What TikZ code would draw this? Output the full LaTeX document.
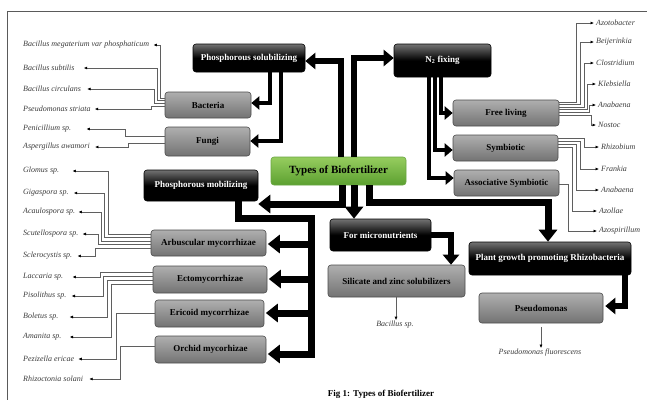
\documentclass[tikz,border=0pt]{standalone}
\usepackage{fontspec}
\setmainfont{Liberation Serif}
\usetikzlibrary{arrows.meta}
\definecolor{labgray}{RGB}{60,60,60}
\definecolor{lingray}{RGB}{95,95,95}
\definecolor{gtop}{RGB}{175,175,175}
\definecolor{gbot}{RGB}{115,115,115}
\definecolor{gdraw}{RGB}{75,75,75}
\definecolor{grtop}{RGB}{150,205,95}
\definecolor{grbot}{RGB}{92,160,48}
\definecolor{grdraw}{RGB}{105,165,65}
\definecolor{frcol}{RGB}{90,90,90}
\begin{document}
\begin{tikzpicture}[x=1pt,y=-1pt,
  wh/.style 2 args={minimum width=#1pt, minimum height=#2pt},
  box/.style={rounded corners=3pt, inner sep=1pt, align=center, font=\fontsize{9}{10}\selectfont\bfseries},
  gbox/.style={box, draw=gdraw, line width=0.6pt, top color=gtop, bottom color=gbot, text=black},
  bbox/.style={box, draw=black, line width=0.6pt, top color=black!55, bottom color=black, middle color=black, text=white},
  grbox/.style={box, draw=grdraw, line width=0.6pt, top color=grtop, bottom color=grbot, text=black, font=\fontsize{11}{12}\selectfont\bfseries},
  labL/.style={anchor=west, inner sep=1pt, font=\fontsize{8}{9}\selectfont\itshape, text=labgray},
  labC/.style={inner sep=1pt, font=\fontsize{8}{9}\selectfont\itshape, text=labgray},
  conn/.style={draw=lingray, line width=0.65pt, -{Latex[length=3.5pt,width=3pt,color=black]}},
  fatS/.style={line width=4.5pt, line join=miter, -{Triangle[length=8pt,width=13pt]}},
  fatM/.style={line width=6pt, line join=miter, -{Triangle[length=10pt,width=16pt]}},
  fatL/.style={line width=7pt, line join=miter, -{Triangle[length=12pt,width=18pt]}}
]
\useasboundingbox (0,0) rectangle (647,400);
\draw[draw=frcol, line width=0.8pt] (647,11) -- (7,11) -- (7,400);

% boxes
\node[bbox, wh={112}{28}] (psol) at (249,58) {Phosphorous solubilizing};
\node[bbox, wh={97}{33}] (n2) at (442.5,60.5) {N\textsubscript{2} fixing};
\node[gbox, wh={86}{26}] (bact) at (208,105) {Bacteria};
\node[gbox, wh={85}{29}] (fungi) at (207.5,141.5) {Fungi};
\node[grbox, wh={135}{28}] (types) at (338.5,171) {Types of Biofertilizer};
\node[gbox, wh={106}{26}] (free) at (506,113) {Free living};
\node[gbox, wh={105}{26}] (symb) at (505.5,148) {Symbiotic};
\node[gbox, wh={105}{26}] (assoc) at (506.5,183) {Associative Symbiotic};
\node[bbox, wh={114}{31}] (pmob) at (201,185.5) {Phosphorous mobilizing};
\node[gbox, wh={115}{26}] (arb) at (208.5,243) {Arbuscular mycorrhizae};
\node[gbox, wh={114}{27}] (ecto) at (210,279.5) {Ectomycorrhizae};
\node[gbox, wh={109}{27}] (eric) at (209.5,313.5) {Ericoid mycorrhizae};
\node[gbox, wh={111}{27}] (orch) at (210.5,349.5) {Orchid mycorhizae};
\node[bbox, wh={101}{32}] (micro) at (380.5,235) {For micronutrients};
\node[gbox, wh={137}{32}] (sil) at (396.5,281) {Silicate and zinc solubilizers};
\node[bbox, wh={162}{33}] (pgpr) at (550,258.5) {Plant growth promoting Rhizobacteria};
\node[gbox, wh={124}{30}] (pseu) at (541,308) {Pseudomonas};

% thick arrows
\draw[fatM] (types.north -| 341,0) -- (341,61) -- (psol.east |- 0,61);
\draw[fatM] (types.north -| 354,0) -- (354,58) -- (n2.west |- 0,58);
\draw[fatS] (psol.south -| 270,0) -- (270,103) -- (bact.east |- 0,103);
\draw[fatS] (psol.south -| 281,0) -- (281,141) -- (fungi.east |- 0,141);
\draw[fatS] (n2.south -| 441,0) -- (441,113) -- (free.west |- 0,113);
\draw[fatS] (n2.south -| 435,0) -- (435,150) -- (symb.west |- 0,150);
\draw[fatS] (n2.south -| 429,0) -- (429,178) -- (assoc.west |- 0,178);
\draw[fatL] (types.south -| 342,0) -- (342,204) -- (pmob.east |- 0,204);
\draw[fatL] (types.south -| 354,0) -- (micro.north -| 354,0);
\draw[fatL] (types.south -| 369,0) -- (369,202) -- (548,202) -- (pgpr.north -| 548,0);
\draw[fatL, shorten >=1.5pt] (pmob.south -| 238,0) -- (238,218) -- (311,218) -- (311,354) -- (orch.east |- 0,354);
\draw[fatL, shorten >=1.5pt] (311,244) -- (arb.east |- 0,244);
\draw[fatL, shorten >=1.5pt] (311,279) -- (ecto.east |- 0,279);
\draw[fatL, shorten >=1.5pt] (311,313) -- (eric.east |- 0,313);
\draw[fatM] (micro.east |- 0,235) -- (451,235) -- (sil.north -| 451,0);
\draw[fatM, shorten >=2pt] (pgpr.south -| 625,0) -- (625,306) -- (pseu.east |- 0,306);

% left labels
\node[labL] (l1) at (22,45) {Bacillus megaterium var phosphaticum};
\node[labL] (l2) at (22,68) {Bacillus subtilis};
\node[labL] (l3) at (22,89) {Bacillus circulans};
\node[labL] (l4) at (22,109) {Pseudomonas striata};
\node[labL] (l5) at (22,129) {Penicillium sp.};
\node[labL] (l6) at (22,147) {Aspergillus awamori};
\node[labL] (l7) at (22,171) {Glomus sp.};
\node[labL] (l8) at (22,193) {Gigaspora sp.};
\node[labL] (l9) at (22,212) {Acaulospora sp.};
\node[labL] (l10) at (22,234) {Scutellospora sp.};
\node[labL] (l11) at (22,256) {Sclerocystis sp.};
\node[labL] (l12) at (22,277) {Laccaria sp.};
\node[labL] (l13) at (22,296) {Pisolithus sp.};
\node[labL] (l14) at (22,317) {Boletus sp.};
\node[labL] (l15) at (22,337) {Amanita sp.};
\node[labL] (l16) at (22,359) {Pezizella ericae};
\node[labL] (l17) at (22,379) {Rhizoctonia solani};

\draw[conn] (bact.west |- 0,98) -| (160,45) -- ([xshift=3pt]l1.east);
\draw[conn] (bact.west |- 0,100.5) -| (157,68) -- ([xshift=8pt]l2.east);
\draw[conn] (bact.west |- 0,103) -| (154,89) -- ([xshift=5pt]l3.east);
\draw[conn] (bact.west |- 0,106) -| (151,109) -- ([xshift=3pt]l4.east);
\draw[conn] (fungi.west |- 0,136) -| (125,129) -- ([xshift=14pt]l5.east);
\draw[conn] (fungi.west |- 0,143) -| (128,147) -- ([xshift=4pt]l6.east);
\draw[conn] (arb.west |- 0,234) -| (108,171) -- ([xshift=12pt]l7.east);
\draw[conn] (arb.west |- 0,237.5) -| (104,193) -- ([xshift=4pt]l8.east);
\draw[conn] (arb.west |- 0,241) -| (101,212) -- ([xshift=2pt]l9.east);
\draw[conn] (arb.west |- 0,244.5) -| (98,234) -- ([xshift=3pt]l10.east);
\draw[conn] (arb.west |- 0,248) -| (95,256) -- ([xshift=4pt]l11.east);
\draw[conn] (ecto.west |- 0,272) -| (100,277) -- ([xshift=8pt]l12.east);
\draw[conn] (ecto.west |- 0,276) -| (103,296) -- ([xshift=4pt]l13.east);
\draw[conn] (ecto.west |- 0,280) -| (107,317) -- ([xshift=10pt]l14.east);
\draw[conn] (ecto.west |- 0,284) -| (111,337) -- ([xshift=7pt]l15.east);
\draw[conn] (eric.west |- 0,313) -| (116,359) -- ([xshift=3pt]l16.east);
\draw[conn] (orch.west |- 0,346) -| (120,379) -- ([xshift=5pt]l17.east);

% right labels
\node[labL] (r1) at (595,23) {Azotobacter};
\node[labL] (r2) at (595,42) {Beijerinkia};
\node[labL] (r3) at (595,63) {Clostridium};
\node[labL] (r4) at (597,84) {Klebsiella};
\node[labL] (r5) at (597,105) {Anabaena};
\node[labL] (r6) at (597,125) {Nostoc};
\node[labL] (r7) at (600,147) {Rhizobium};
\node[labL] (r8) at (600,169) {Frankia};
\node[labL] (r9) at (600,190) {Anabaena};
\node[labL] (r10) at (598,211) {Azollae};
\node[labL] (r11) at (598,231) {Azospirillum};

\draw[conn] (free.east |- 0,102) -| (576,23) -- ([xshift=-1pt]r1.west);
\draw[conn] (free.east |- 0,104.5) -| (580,42) -- ([xshift=-1pt]r2.west);
\draw[conn] (free.east |- 0,107) -| (584,63) -- ([xshift=-1pt]r3.west);
\draw[conn] (free.east |- 0,109.5) -| (587,84) -- ([xshift=-1pt]r4.west);
\draw[conn] (free.east |- 0,112) -| (589,105) -- ([xshift=-1pt]r5.west);
\draw[conn] (free.east |- 0,115) -| (591,125) -- ([xshift=-1pt]r6.west);
\draw[conn] (symb.east |- 0,138) -| (584,147) -- ([xshift=-1pt]r7.west);
\draw[conn] (symb.east |- 0,141) -| (580,169) -- ([xshift=-1pt]r8.west);
\draw[conn] (symb.east |- 0,144) -| (576,190) -- ([xshift=-1pt]r9.west);
\draw[conn] (symb.east |- 0,147) -| (572,211) -- ([xshift=-1pt]r10.west);
\draw[conn] (assoc.east |- 0,184) -| (568,231) -- ([xshift=-1pt]r11.west);

% bottom labels
\node[labC] (bs) at (395,325) {Bacillus sp.};
\draw[conn] (sil.south -| 396,0) -- (bs.north -| 396,0);
\node[labC] (pf) at (540,353) {Pseudomonas fluorescens};
\draw[conn] ([yshift=-4pt]pseu.south) -- (pseu.south |- pf.north);

\node[font=\fontsize{9}{10}\selectfont\bfseries, inner sep=1pt] (cap) at (381,394) {Fig 1: Types of Biofertilizer};
\end{tikzpicture}
\end{document}
